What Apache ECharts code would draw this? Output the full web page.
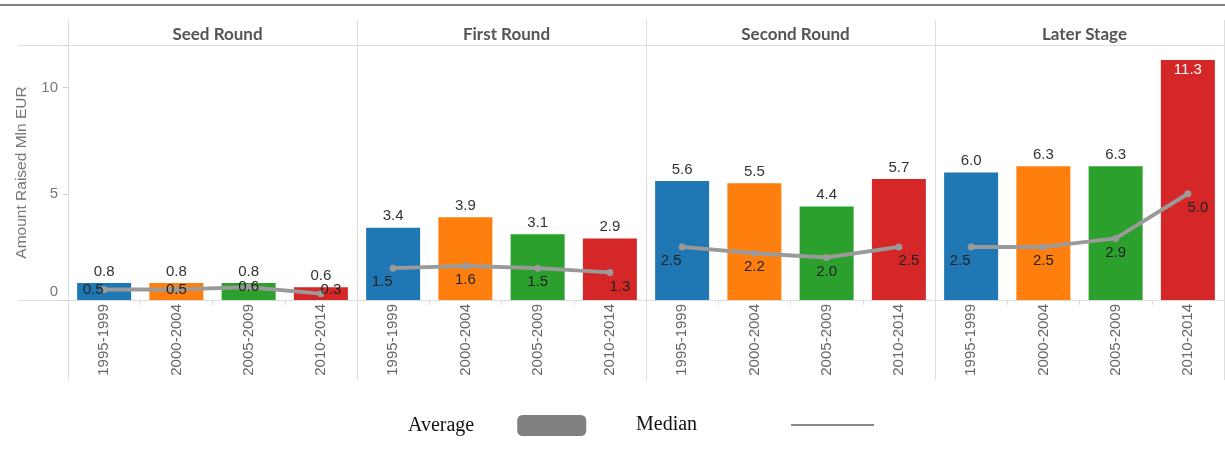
<!DOCTYPE html>
<html>
<head>
<meta charset="utf-8">
<script src="https://cdn.jsdelivr.net/npm/echarts@6/dist/echarts.min.js"></script>
<style>html,body{margin:0;padding:0;background:#fff}#c{width:1225px;height:457px}</style>
</head>
<body>
<div id="c"></div>
<script>
// ---- data ----
const stages = ['Seed Round', 'First Round', 'Second Round', 'Later Stage'];
const periods = ['1995-1999', '2000-2004', '2005-2009', '2010-2014'];
const avgSeed = [0.8, 0.8, 0.8, 0.6];
const avgFirst = [3.4, 3.9, 3.1, 2.9];
const avgSecond = [5.6, 5.5, 4.4, 5.7];
const avgLater = [6.0, 6.3, 6.3, 11.3];
const medSeed = [0.5, 0.5, 0.6, 0.3];
const medFirst = [1.5, 1.6, 1.5, 1.3];
const medSecond = [2.5, 2.2, 2.0, 2.5];
const medLater = [2.5, 2.5, 2.9, 5.0];
const yTicks = [0, 5, 10];

const averages = [avgSeed, avgFirst, avgSecond, avgLater];
const medians = [medSeed, medFirst, medSecond, medLater];

// ---- layout / style ----
const colors = ['#1f77b4', '#ff7f0e', '#2ca02c', '#d62728'];
const panelLeft = 68, panelW = 289, plotTop = 45, plotBottom = 300;
const yMax = 12;
const sans = '"Liberation Sans", Arial, sans-serif';
const serif = '"Liberation Serif", "DejaVu Serif", serif';
const fmt = v => (typeof v === 'object' ? v.value : v).toFixed(1);

const chart = echarts.init(document.getElementById('c'), null, { renderer: 'canvas' });

const grids = [], xAxes = [], yAxes = [], series = [], titles = [], graphics = [];

stages.forEach((st, i) => {
  grids.push({ left: panelLeft + i * panelW, width: panelW, top: plotTop, height: plotBottom - plotTop, containLabel: false });
  xAxes.push({
    type: 'category', gridIndex: i, data: periods,
    axisLine: { show: false },
    axisTick: { show: true, length: 5, lineStyle: { color: '#ddd' } },
    axisLabel: { rotate: 90, color: '#666', fontSize: 15, fontFamily: sans, margin: 4 }
  });
  yAxes.push({
    type: 'value', gridIndex: i, min: 0, max: yMax, interval: 5,
    show: i === 0,
    name: i === 0 ? 'Amount Raised Mln EUR' : '',
    nameLocation: 'middle', nameGap: 38, nameRotate: 90,
    nameTextStyle: { color: '#777', fontSize: 15.5, fontFamily: sans },
    axisLine: { show: false },
    axisTick: { show: true, length: 5, lineStyle: { color: '#ccc' } },
    splitLine: { show: false },
    axisLabel: {
      color: '#777', fontSize: 15, fontFamily: sans, margin: 10,
      formatter: v => (yTicks.indexOf(v) >= 0 ? (v === 0 ? '{z|0}' : String(v)) : ''),
      rich: { z: { color: '#777', fontSize: 15, fontFamily: sans, padding: [0, 0, 16, 0] } }
    }
  });
  series.push({
    type: 'bar', name: 'Average', xAxisIndex: i, yAxisIndex: i,
    barWidth: 54, z: 2,
    data: averages[i].map((v, j) => {
      const inside = v > yMax * 0.85;
      return {
        value: v,
        itemStyle: { color: colors[j] },
        label: inside
          ? { position: 'insideTop', distance: 2, color: '#fff' }
          : { position: 'top', distance: 4, color: '#333' }
      };
    }),
    label: { show: true, fontSize: 15, fontFamily: sans, formatter: p => fmt(p.value) }
  });
  series.push({
    type: 'line', name: 'Median', xAxisIndex: i, yAxisIndex: i,
    z: 5, symbol: 'circle', symbolSize: 7,
    lineStyle: { color: '#9a9a9a', width: 4 },
    itemStyle: { color: '#9a9a9a' },
    data: medians[i].map((v, j) => {
      const n = medians[i].length;
      let dx = j === 0 ? -11 : (j === n - 1 ? 10 : 0);
      let dy = i === 0 ? (j === n - 1 ? -4 : 0) : 14;
      return { value: v, label: { offset: [dx, dy] } };
    }),
    label: { show: true, position: 'inside', color: '#222', fontSize: 15, fontFamily: sans, formatter: p => fmt(p.value) }
  });
  titles.push({
    text: st, left: panelLeft + i * panelW + panelW / 2, top: 21, textAlign: 'center',
    textStyle: { color: '#555', fontSize: 17, fontWeight: 'bold', fontFamily: 'Lato, "Liberation Sans", sans-serif' }
  });
});

// structural lines
graphics.push({ type: 'rect', shape: { x: 0, y: 4, width: 1225, height: 2 }, style: { fill: '#808080' }, silent: true });
graphics.push({ type: 'line', shape: { x1: 18, y1: plotTop + 0.5, x2: panelLeft + 4 * panelW, y2: plotTop + 0.5 }, style: { stroke: '#ddd', lineWidth: 1 }, silent: true });
graphics.push({ type: 'line', shape: { x1: 18, y1: plotBottom + 0.5, x2: panelLeft + 4 * panelW, y2: plotBottom + 0.5 }, style: { stroke: '#ddd', lineWidth: 1 }, silent: true });
for (let k = 0; k <= stages.length; k++) {
  const x = panelLeft + k * panelW + 0.5;
  graphics.push({ type: 'line', shape: { x1: x, y1: 20, x2: x, y2: 380 }, style: { stroke: '#ddd', lineWidth: 1 }, silent: true });
}

chart.setOption({
  animation: false,
  title: titles,
  grid: grids,
  xAxis: xAxes,
  yAxis: yAxes,
  series: series,
  graphic: graphics,
  legend: [
    {
      left: 403, top: 410, align: 'right', itemWidth: 69, itemHeight: 21, itemGap: 0,
      selectedMode: false,
      data: [{ name: 'Average', icon: 'roundRect', itemStyle: { color: '#808080', borderWidth: 0 } }],
      textStyle: { color: '#111', fontSize: 20, fontFamily: serif, padding: [0, 38, 0, 0] }
    },
    {
      left: 631, top: 410, align: 'right', itemWidth: 83, itemHeight: 2, itemGap: 0,
      selectedMode: false,
      data: [{ name: 'Median', icon: 'rect', itemStyle: { color: '#888', borderWidth: 0 } }],
      textStyle: { color: '#111', fontSize: 20, fontFamily: serif, padding: [0, 89, 0, 0] }
    }
  ]
});
</script>
</body>
</html>
